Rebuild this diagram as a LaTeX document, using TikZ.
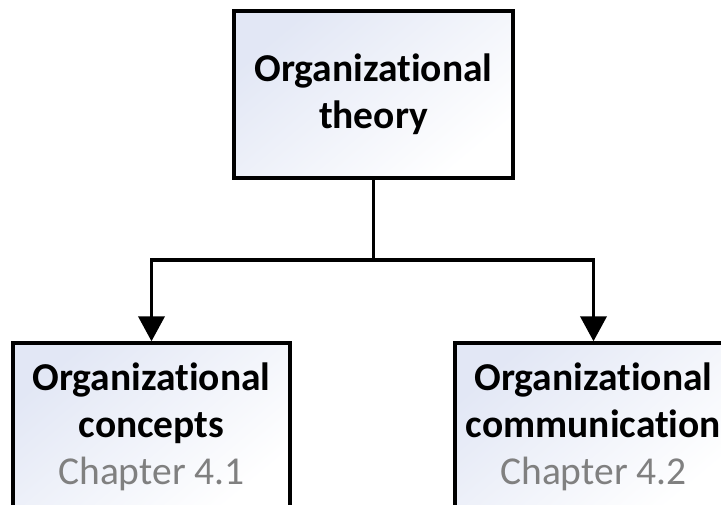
\documentclass[tikz,border=0pt]{standalone}
\usepackage{fontspec}
\setmainfont[Ligatures=NoCommon]{Carlito}
\usetikzlibrary{arrows.meta}
\definecolor{boxtint}{RGB}{226,231,245}
\definecolor{chaptergray}{RGB}{128,128,128}
\tikzset{
  topicbox/.style={draw=black, line width=3.4pt, rectangle, inner sep=0pt,
    minimum width=279pt, minimum height=167pt, align=center,
    shading=axis, top color=boxtint, bottom color=white, shading angle=40,
    font=\fontsize{39.5}{47}\selectfont\bfseries},
  link/.style={line width=3.8pt, line cap=rect},
  arrowlink/.style={link, line cap=butt, -{Triangle[length=25pt,width=26pt]}}
}
\newcommand{\chapterline}[1]{{\mdseries\color{chaptergray}#1}}
\begin{document}
\begin{tikzpicture}[x=1pt,y=-1pt]
  \clip (0,0) rectangle (721,504);
  \fill[white] (0,0) rectangle (721,504);

  \node[topicbox] (theory) at (373.5,94.5) {Organizational\\theory};
  \node[topicbox, minimum width=277pt] (concepts) at (151.5,426.5)
    {Organizational\\concepts\\\chapterline{Chapter 4.1}};
  \node[topicbox, minimum width=277pt] (comm) at (593.5,426.5)
    {Organizational\\communication\\\chapterline{Chapter 4.2}};

  \coordinate (split) at (theory.south |- 0,260);

  \draw[link] (theory.south) -- (split);
  \draw[arrowlink] (split) -| (concepts.north);
  \draw[arrowlink] (split) -| (comm.north);
\end{tikzpicture}
\end{document}
